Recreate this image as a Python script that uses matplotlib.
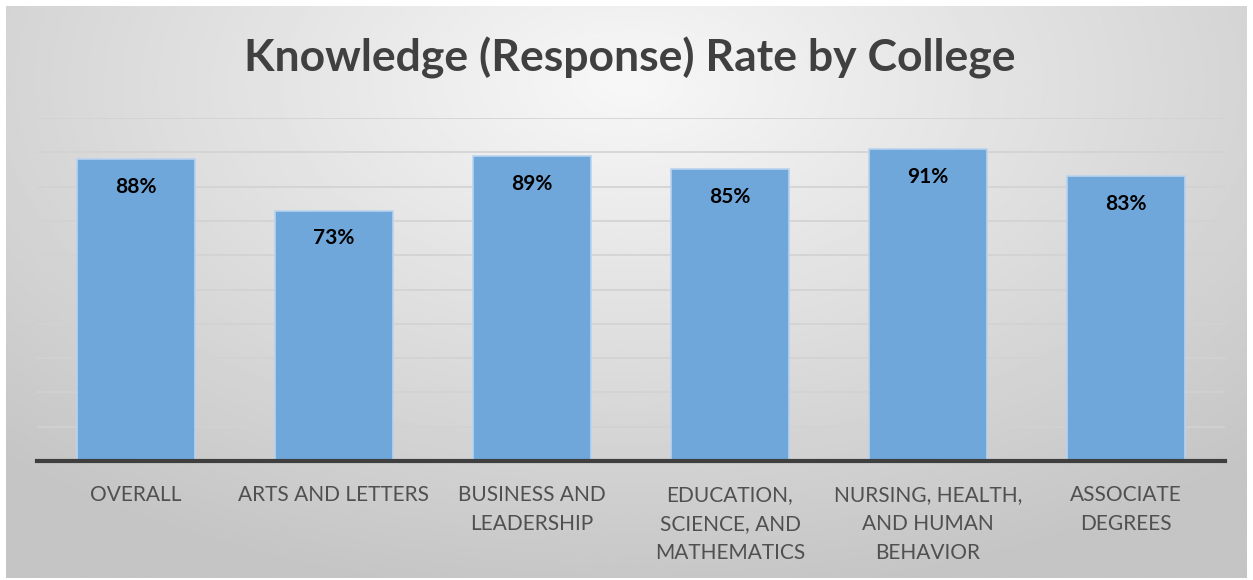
import numpy as np
import matplotlib.pyplot as plt

colleges = ["OVERALL", "ARTS AND LETTERS", "BUSINESS AND\nLEADERSHIP",
            "EDUCATION,\nSCIENCE, AND\nMATHEMATICS", "NURSING, HEALTH,\nAND HUMAN\nBEHAVIOR",
            "ASSOCIATE\nDEGREES"]
rates = [88, 73, 89, 85, 91, 83]
labels = ["88%", "73%", "89%", "85%", "91%", "83%"]

W, H = 1253, 580
fig = plt.figure(figsize=(W / 100, H / 100), dpi=100)
fig.patch.set_facecolor("white")

# background plate with a soft radial gradient
bg = fig.add_axes([6 / W, 2 / H, 1241 / W, 572 / H])
yy, xx = np.mgrid[0:300, 0:600]
d = np.sqrt(((xx - 300) / 420.0) ** 2 + ((yy - 40) / 260.0) ** 2)
shade = np.clip(0.97 - 0.19 * d, 0.77, 0.975)
bg.imshow(shade, cmap="gray", vmin=0, vmax=1, aspect="auto", extent=[0, 1, 0, 1],
          origin="upper", interpolation="bilinear")
bg.set_axis_off()

ax = fig.add_axes([37 / W, (H - 461) / H, 1188 / W, 343 / H])
ax.set_facecolor("none")
x = np.arange(len(colleges))
ax.bar(x, rates, width=0.6, color="#6FA7DB", edgecolor="#B9D3EE", linewidth=1.2, zorder=3)
ax.set_xlim(-0.5, len(colleges) - 0.5)
ax.set_ylim(0, 100)
ax.set_yticks(np.arange(0, 101, 10))
ax.yaxis.grid(True, color="#D2D2D2", linewidth=1.2, zorder=0)
ax.tick_params(axis="y", left=False, labelleft=False)
ax.tick_params(axis="x", bottom=False, pad=14)
ax.set_xticks(x)
ax.set_xticklabels(colleges, fontsize=15, color="#505050", family="Lato", linespacing=1.55, va="top")
for s in ["top", "right", "left"]:
    ax.spines[s].set_visible(False)
ax.spines["bottom"].set_color("#3F3F3F")
ax.spines["bottom"].set_linewidth(3)
ax.spines["bottom"].set_zorder(4)

for xi, r, lab in zip(x, rates, labels):
    ax.annotate(lab, (xi, r), xytext=(0, -20), textcoords="offset points",
                ha="center", va="center", fontsize=15, fontweight="bold",
                family="Lato", color="black", zorder=5)

fig.text(630 / W, 1 - 58 / H, "Knowledge (Response) Rate by College", ha="center",
         va="center", fontsize=32, fontweight="bold", family="Lato", color="#404040")

fig.savefig("out.png", dpi=100)
